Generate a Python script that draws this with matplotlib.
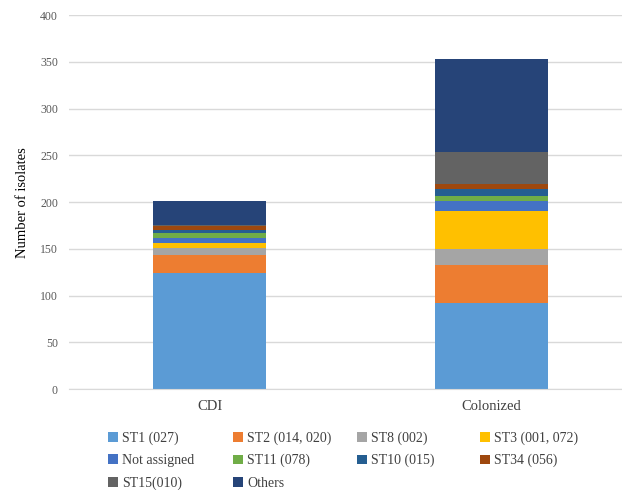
import numpy as np
import matplotlib.pyplot as plt
from matplotlib.patches import Patch

plt.rcParams['font.family'] = ['Liberation Serif', 'DejaVu Serif']

# categories and stacked series (bottom to top)
groups = ['CDI', 'Colonized']
labels = ['ST1 (027)', 'ST2 (014, 020)', 'ST8 (002)', 'ST3 (001, 072)',
          'Not assigned', 'ST11 (078)', 'ST10 (015)', 'ST34 (056)',
          'ST15(010)', 'Others']
cdi = [124, 19, 8, 5, 6, 5, 3, 4, 2, 25]
colonized = [92, 41, 17, 40, 11, 6, 7, 5, 35, 99]
colors = ['#5B9BD5', '#ED7D31', '#A5A5A5', '#FFC000', '#4472C4',
          '#70AD47', '#255E91', '#9E480E', '#636363', '#264478']

fig = plt.figure(figsize=(6.22, 4.90), dpi=100)
ax = fig.add_axes([0.111, 0.206, 0.905, 0.763])

vals = np.array([cdi, colonized])
x = np.arange(len(groups))
bottom = np.zeros(len(groups))
for i, lab in enumerate(labels):
    ax.bar(x, vals[:, i], 0.40, bottom=bottom, color=colors[i], label=lab,
           zorder=3)
    bottom += vals[:, i]

ax.set_xlim(-0.5, 1.5)
ax.set_ylim(0, 400)
ax.set_yticks(range(0, 401, 50))
ax.set_xticks(x)
ax.set_xticklabels(groups, fontsize=10.5, color='#404040')
ax.tick_params(axis='y', length=0, labelsize=8.5, labelcolor='#595959', pad=8)
ax.tick_params(axis='x', length=0, pad=8)
ax.grid(axis='y', color='#D9D9D9', linewidth=1, zorder=0)
for s in ['top', 'right', 'left']:
    ax.spines[s].set_visible(False)
ax.spines['bottom'].set_color('#D9D9D9')
ax.spines['bottom'].set_zorder(4)
ax.set_ylabel('Number of isolates', fontsize=10.5, labelpad=8)

# legend, laid out row by row in four columns
col_x = [0.174, 0.375, 0.574, 0.772]
for c in range(4):
    idx = list(range(c, len(labels), 4))
    handles = [Patch(facecolor=colors[k], label=labels[k]) for k in idx]
    leg = fig.legend(handles=handles, loc='upper left',
                     bbox_to_anchor=(col_x[c], 0.120),
                     frameon=False, fontsize=10, handlelength=0.7,
                     handleheight=0.7, handletextpad=0.3, labelspacing=0.67,
                     borderaxespad=0, borderpad=0)
    for t in leg.get_texts():
        t.set_color('#404040')

fig.savefig('out.png', dpi=100)
